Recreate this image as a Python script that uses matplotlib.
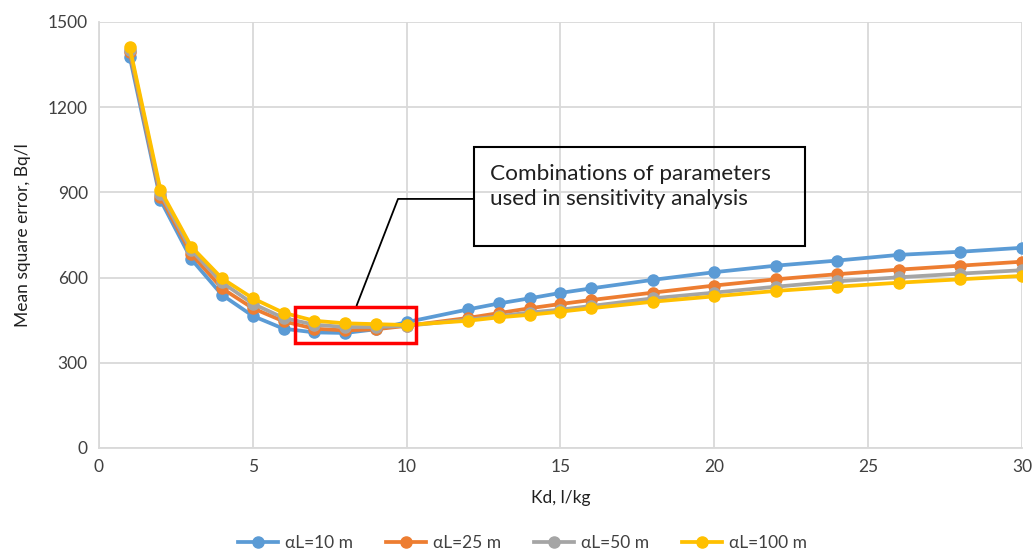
#import modules
import matplotlib.pyplot as plt
from matplotlib.patches import Rectangle

plt.rcParams['font.family'] = ['Lato', 'DejaVu Sans']

#data
kd = [1, 2, 3, 4, 5, 6, 7, 8, 9, 10, 12, 13, 14, 15, 16, 18, 20, 22, 24, 26, 28, 30]
mse_10 = [1378, 873, 665, 539, 465, 420, 407, 405, 418, 443,
          488, 509, 527, 546, 562, 592, 619, 642, 660, 680, 691, 705]
mse_25 = [1395, 885, 683, 562, 492, 446, 420, 414, 418, 430,
          458, 475, 492, 507, 521, 547, 572, 594, 612, 628, 642, 656]
mse_50 = [1402, 896, 696, 583, 508, 458, 434, 426, 426, 430,
          452, 464, 477, 487, 500, 527, 547, 568, 587, 601, 614, 626]
mse_100 = [1411, 908, 709, 597, 527, 476, 448, 439, 436, 433,
           448, 460, 469, 480, 492, 515, 534, 553, 568, 582, 594, 606]
labels = ["αL=10 m", "αL=25 m", "αL=50 m", "αL=100 m"]
colors = ["#5B9BD5", "#ED7D31", "#A5A5A5", "#FFC000"]

fig = plt.figure(figsize=(10.34, 5.5), dpi=100)
ax = fig.add_axes([0.0957, 0.1855, 0.8927, 0.7745])

for y, lab, c in zip([mse_10, mse_25, mse_50, mse_100], labels, colors):
    ax.plot(kd, y, color=c, lw=2.7, marker="o", markersize=8, label=lab)

ax.set_xlim(0, 30)
ax.set_ylim(0, 1500)
ax.set_xticks(range(0, 31, 5))
ax.set_yticks(range(0, 1501, 300))
ax.grid(True, color="#d9d9d9", lw=1.3)
ax.set_axisbelow(True)
for s in ["top", "right"]:
    ax.spines[s].set_visible(False)
for s in ["left", "bottom"]:
    ax.spines[s].set_color("#d9d9d9")
    ax.spines[s].set_linewidth(1.3)
ax.tick_params(length=0, labelsize=12.5, labelcolor="#404040", pad=8)
ax.set_xlabel("Kd, l/kg", fontsize=12.5, color="#202020", labelpad=11)
ax.set_ylabel("Mean square error, Bq/l", fontsize=12.5, color="#202020", labelpad=12)

#highlight box and callout
ax.add_patch(Rectangle((6.37, 371), 3.95, 124, fill=False, ec="#ff0000", lw=2.5, zorder=5))
ax.plot([8.38, 9.72, 12.19], [503, 877, 877], color="black", lw=1.3, zorder=5)
ax.add_patch(Rectangle((12.19, 711), 10.75, 348, fill=False, ec="black", lw=1.5, zorder=5))
ax.text(12.7, 1000, "Combinations of parameters\nused in sensitivity analysis",
        fontsize=16.2, color="#202020", va="top", ha="left", linespacing=1.3, zorder=6)

fig.legend(loc="lower center", bbox_to_anchor=(0.505, -0.03), ncol=4, frameon=False,
           fontsize=12.5, handlelength=2.3, columnspacing=1.9, handletextpad=0.4,
           labelcolor="#404040")

plt.savefig("out.png", dpi=100)
